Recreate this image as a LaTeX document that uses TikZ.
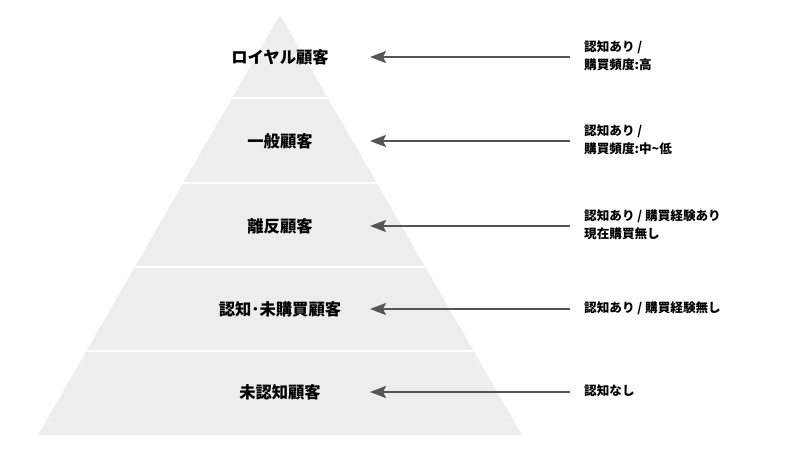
\documentclass[tikz,border=0pt]{standalone}
\usepackage{fontspec}
\newfontfamily\cjk{Noto Sans CJK JP}
\usetikzlibrary{arrows.meta}
\definecolor{pyrgray}{HTML}{EDEDED}
\definecolor{arrgray}{HTML}{555555}
\begin{document}
\begin{tikzpicture}[x=1pt,y=-1pt,
  lvl/.style={font=\cjk\bfseries\fontsize{16.3}{20}\selectfont, text=black, inner sep=0pt},
  desc/.style={font=\cjk\bfseries\fontsize{12.6}{18}\selectfont, text=black, align=left, anchor=west, inner sep=0pt},
  arr/.style={draw=arrgray, line width=2pt, -{Stealth[length=16pt,width=12pt,inset=3pt]}},
  sep/.style={draw=white, line width=1.5pt}]
\useasboundingbox (0,0) rectangle (800,450);
\fill[pyrgray] (280,15) -- (522,435) -- (38,435) -- cycle;
\begin{scope}
  \clip (280,15) -- (522,435) -- (38,435) -- cycle;
  \foreach \yy in {98,183,267,351} \draw[sep] (0,\yy) -- (800,\yy);
\end{scope}
\node[lvl] (l1) at (280,57) {ロイヤル顧客};
\node[lvl] (l2) at (280,141) {一般顧客};
\node[lvl] (l3) at (280,226) {離反顧客};
\node[lvl] (l4) at (280,309) {認知･未購買顧客};
\node[lvl] (l5) at (280,392) {未認知顧客};
\node[desc] (d1) at (584,56) {認知あり /\\購買頻度:高};
\node[desc] (d2) at (584,140) {認知あり /\\購買頻度:中\textasciitilde 低};
\node[desc] (d3) at (584,225) {認知あり / 購買経験あり\\現在購買無し};
\node[desc] (d4) at (584,308) {認知あり / 購買経験無し};
\node[desc] (d5) at (584,391) {認知なし};
\foreach \i/\yy in {1/57,2/141,3/226,4/309,5/392}{
  \coordinate (s\i) at (570,\yy);
  \coordinate (t\i) at (370,\yy);
  \draw[arr] (s\i) -- (t\i);
}
\end{tikzpicture}
\end{document}
